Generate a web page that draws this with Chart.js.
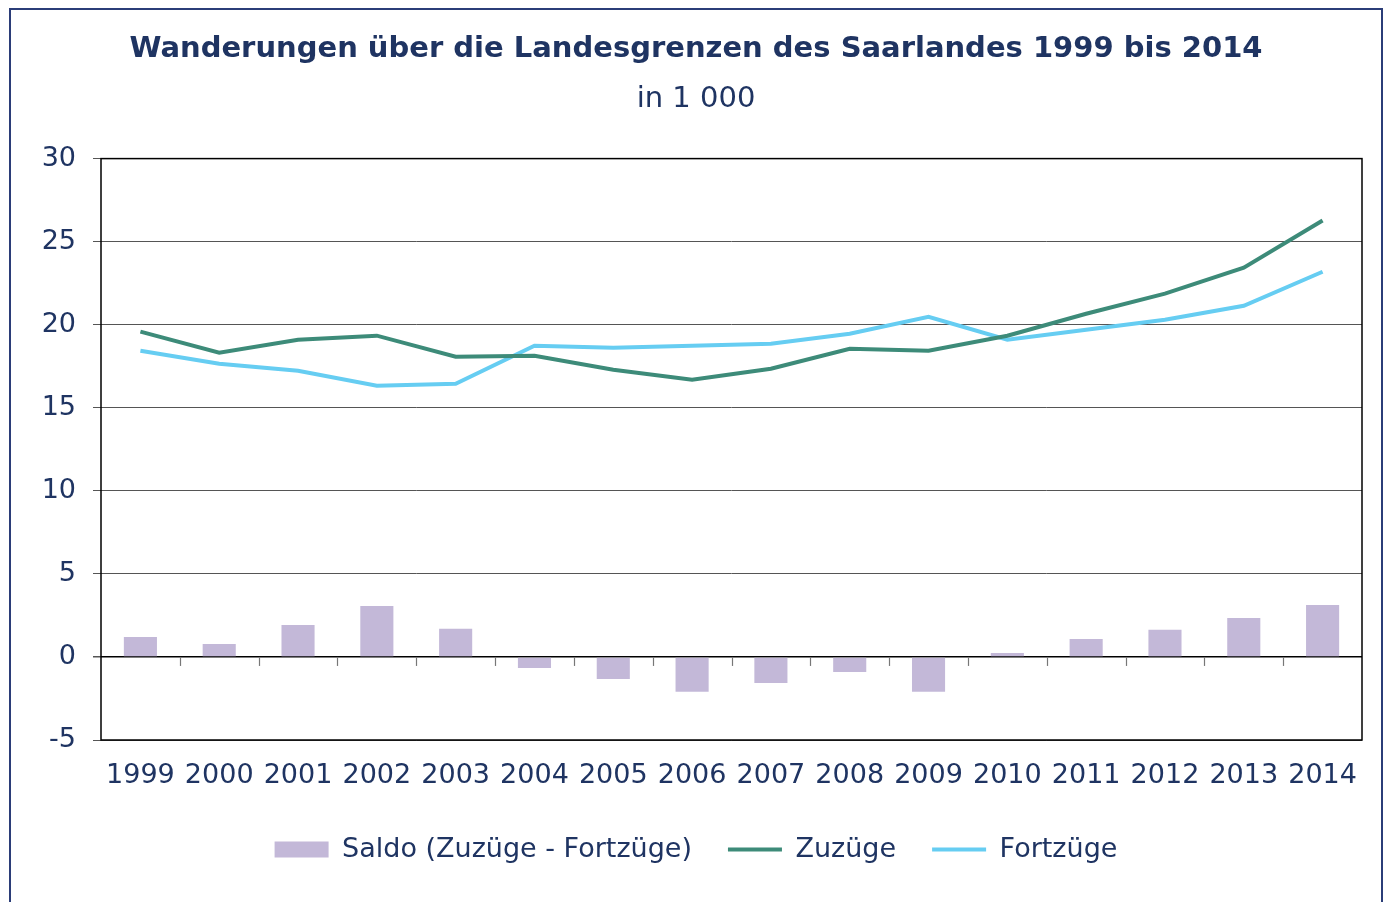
<!DOCTYPE html>
<html>
<head>
<meta charset="utf-8">
<script src="https://cdn.jsdelivr.net/npm/chart.js@4/dist/chart.umd.min.js"></script>
<style>
  html, body { margin: 0; padding: 0; background: #fff; overflow: hidden; }
  #wrap { position: relative; width: 1391px; height: 902px; }
  #frame { position: absolute; left: 9px; top: 8px; width: 1374px; height: 920px; border: 2px solid #2b3d78; box-sizing: border-box; }
  canvas { position: absolute; left: 0; top: 0; }
</style>
</head>
<body>
<div id="wrap">
  <div id="frame"></div>
  <canvas id="chart" width="1391" height="902"></canvas>
</div>
<script>
const years = ['1999', '2000', '2001', '2002', '2003', '2004', '2005', '2006', '2007', '2008', '2009', '2010', '2011', '2012', '2013', '2014'];
const saldo = [1.2, 0.78, 1.93, 3.07, 1.69, -0.66, -1.33, -2.1, -1.57, -0.9, -2.1, 0.24, 1.08, 1.63, 2.35, 3.13];
const zuzuege = [19.58, 18.31, 19.1, 19.34, 18.07, 18.13, 17.29, 16.69, 17.35, 18.55, 18.43, 19.34, 20.66, 21.87, 23.43, 26.27];
const fortzuege = [18.43, 17.65, 17.23, 16.33, 16.45, 18.73, 18.61, 18.73, 18.86, 19.46, 20.48, 19.1, 19.7, 20.3, 21.14, 23.19];

const navy = '#1f3462';
const fontFamily = '"DejaVu Sans", Verdana, sans-serif';

// frame around plot area + small category ticks on the zero line
const framePlugin = {
  id: 'frame',
  afterDraw(chart) {
    const { ctx, chartArea: a, scales: { x, y } } = chart;
    ctx.save();
    ctx.strokeStyle = '#000';
    ctx.lineWidth = 1.5;
    ctx.strokeRect(a.left, a.top, a.right - a.left, a.bottom - a.top);
    const y0 = y.getPixelForValue(0);
    ctx.strokeStyle = '#777';
    ctx.lineWidth = 1.2;
    const step = (x.right - x.left) / years.length;
    for (let i = 1; i < years.length; i++) {
      const px = Math.round(x.left + i * step) + 0.5;
      ctx.beginPath();
      ctx.moveTo(px, y0);
      ctx.lineTo(px, y0 + 9);
      ctx.stroke();
    }
    ctx.restore();
  }
};

new Chart(document.getElementById('chart'), {
  data: {
    labels: years,
    datasets: [
      {
        type: 'bar',
        label: 'Saldo (Zuzüge - Fortzüge)',
        data: saldo,
        backgroundColor: '#c3b8d8',
        borderWidth: 0,
        pointStyle: 'rect',
        barPercentage: 0.42,
        categoryPercentage: 1,
        order: 3
      },
      {
        type: 'line',
        label: 'Zuzüge',
        data: zuzuege,
        borderColor: '#3d8b79',
        backgroundColor: '#3d8b79',
        borderWidth: 4,
        pointRadius: 0,
        pointStyle: 'line',
        tension: 0,
        order: 1
      },
      {
        type: 'line',
        label: 'Fortzüge',
        data: fortzuege,
        borderColor: '#66cdf2',
        backgroundColor: '#66cdf2',
        borderWidth: 4,
        pointRadius: 0,
        pointStyle: 'line',
        tension: 0,
        order: 2
      }
    ]
  },
  options: {
    responsive: false,
    animation: false,
    layout: { padding: { left: 30, right: 29, top: 0, bottom: 29 } },
    plugins: {
      title: {
        display: true,
        text: 'Wanderungen über die Landesgrenzen des Saarlandes 1999 bis 2014',
        color: navy,
        font: { family: fontFamily, size: 29, weight: 'bold' },
        padding: { top: 32, bottom: 8 }
      },
      subtitle: {
        display: true,
        text: 'in 1 000',
        color: navy,
        font: { family: fontFamily, size: 29 },
        padding: { top: 7, bottom: 42 }
      },
      legend: {
        position: 'bottom',
        labels: {
          usePointStyle: true,
          pointStyleWidth: 54,
          boxHeight: 16,
          color: navy,
          font: { family: fontFamily, size: 27 },
          padding: 36,
          sort: (a, b) => a.datasetIndex - b.datasetIndex
        }
      },
      tooltip: { enabled: false }
    },
    scales: {
      x: {
        offset: true,
        grid: { display: false, drawTicks: false },
        border: { display: false },
        ticks: { color: navy, font: { family: fontFamily, size: 27 }, padding: 20, maxRotation: 0 },
        afterFit(s) { s.height = 60; }
      },
      y: {
        min: -5,
        max: 30,
        ticks: { stepSize: 5, color: navy, font: { family: fontFamily, size: 27 }, padding: 17 },
        grid: {
          color: ctx => ctx.tick && ctx.tick.value === 0 ? '#000' : '#555',
          lineWidth: ctx => ctx.tick && ctx.tick.value === 0 ? 1.5 : 1,
          tickColor: '#555',
          tickLength: 8
        },
        border: { display: false },
        afterFit(s) { s.width = 71; }
      }
    }
  },
  plugins: [framePlugin]
});
</script>
</body>
</html>
